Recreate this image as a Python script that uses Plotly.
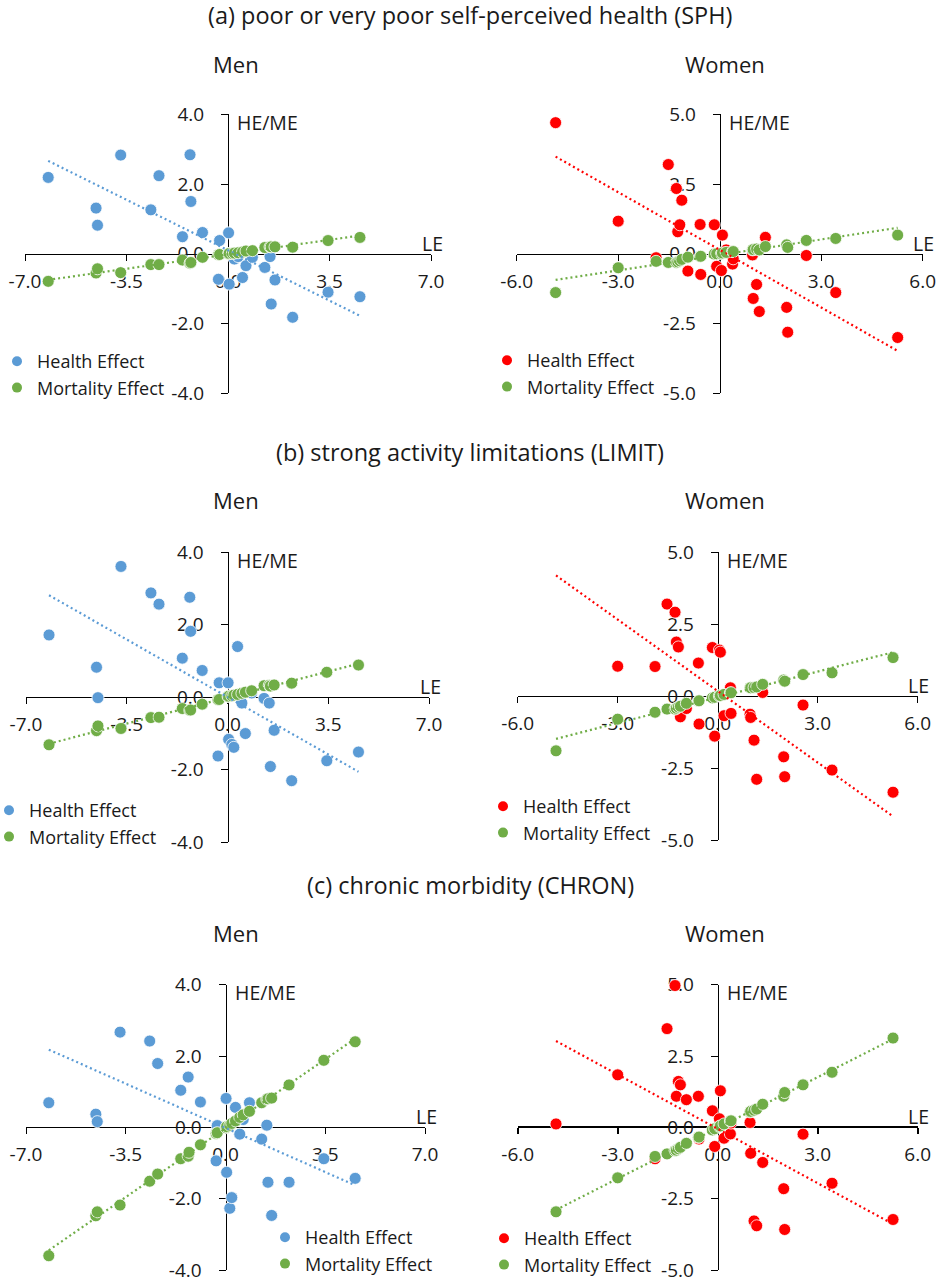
import numpy as np
import plotly.graph_objects as go

# ---------------- data ----------------
men_le = [-6.20, -4.55, -4.50, -3.70, -2.66, -2.38, -1.57, -1.31, -1.28, -0.88, -0.33, -0.29,
          0.02, 0.04, 0.15, 0.22, 0.35, 0.50, 0.62, 0.84, 1.27, 1.45, 1.49, 1.62, 2.23, 3.45, 4.55]
men_sph_he = [2.19, 1.31, 0.82, 2.83, 1.26, 2.24, 0.49, 2.84, 1.50, 0.61, -0.73, 0.38,
              0.60, -0.87, -0.05, -0.15, -0.08, -0.68, -0.34, -0.10, -0.39, -0.08, -1.44, -0.75, -1.82, -1.10, -1.23]
men_sph_me = [-0.79, -0.55, -0.43, -0.54, -0.31, -0.31, -0.18, -0.27, -0.25, -0.10, -0.03, -0.02,
              0.00, 0.01, 0.01, 0.02, 0.03, 0.05, 0.08, 0.09, 0.18, 0.20, 0.20, 0.20, 0.19, 0.38, 0.47]
men_limit_he = [1.72, 0.83, -0.01, 3.61, 2.88, 2.57, 1.08, 2.76, 1.82, 0.74, -1.62, 0.40,
                0.40, -1.16, -1.30, -1.38, 1.40, -0.16, -1.00, 0.12, -0.03, -0.16, -1.91, -0.91, -2.30, -1.75, -1.51]
men_limit_me = [-1.31, -0.92, -0.79, -0.86, -0.56, -0.55, -0.31, -0.36, -0.35, -0.19, -0.07, -0.06,
                0.02, 0.03, 0.04, 0.06, 0.08, 0.11, 0.14, 0.18, 0.32, 0.33, 0.31, 0.34, 0.39, 0.69, 0.89]
men_chron_he = [0.69, 0.37, 0.16, 2.67, 2.42, 1.79, 1.04, 1.41, 4.60, 0.71, -0.94, 0.05,
                0.81, -1.26, -2.27, -1.97, 0.56, -0.19, 0.22, 0.69, -0.33, 0.06, -1.54, -2.47, -1.54, -0.88, -1.43]
men_chron_me = [-3.60, -2.48, -2.37, -2.18, -1.51, -1.31, -0.88, -0.81, -0.70, -0.49, -0.17, -0.15,
                -0.01, 0.02, 0.06, 0.11, 0.18, 0.28, 0.35, 0.45, 0.69, 0.79, 0.80, 0.82, 1.19, 1.88, 2.40]

women_le = [-4.85, -3.00, -1.88, -1.52, -1.28, -1.24, -1.18, -1.12, -0.94, -0.58, -0.56, -0.16, -0.09,
            0.05, 0.08, 0.19, 0.38, 0.40, 0.97, 0.99, 1.09, 1.17, 1.35, 1.98, 2.01, 2.56, 3.43, 5.26]
women_sph_he = [4.70, 1.17, -0.14, 3.20, 2.34, 0.79, 1.04, 1.92, -0.62, 1.05, -0.74, 1.04, -0.45,
                -0.60, 0.67, 0.14, -0.37, -0.18, -0.04, -1.60, -1.10, -2.07, 0.59, -1.92, -2.81, -0.06, -1.39, -3.00]
women_sph_me = [-1.39, -0.50, -0.27, -0.31, -0.31, -0.29, -0.25, -0.20, -0.12, -0.10, -0.09, -0.01, 0.00,
                0.00, 0.03, 0.05, 0.08, 0.08, 0.14, 0.15, 0.17, 0.14, 0.26, 0.32, 0.23, 0.48, 0.55, 0.67]
women_limit_he = [5.60, 1.04, 1.03, 3.20, 2.92, 1.88, 1.71, -0.72, -0.43, 1.15, -0.97, 1.69, -1.39,
                  1.60, 1.53, -0.68, 0.29, -0.60, -0.63, -0.74, -1.53, -2.89, 0.13, -2.11, -2.80, -0.31, -2.57, -3.34]
women_limit_me = [-1.90, -0.80, -0.56, -0.45, -0.45, -0.42, -0.38, -0.35, -0.25, -0.17, -0.16, -0.06, -0.04,
                  0.01, 0.02, 0.06, 0.11, 0.12, 0.29, 0.29, 0.30, 0.32, 0.41, 0.56, 0.52, 0.75, 0.81, 1.34]
women_chron_he = [0.12, 1.84, -1.10, 3.46, 4.97, 1.09, 1.61, 1.49, 0.97, 1.09, -0.41, 0.58, -0.67,
                  0.30, 1.28, -0.38, -0.23, 0.15, 0.17, -0.91, -3.28, -3.45, -1.23, -2.15, -3.58, -0.24, -1.96, -3.23]
women_chron_me = [-2.96, -1.77, -1.02, -0.93, -0.82, -0.80, -0.75, -0.70, -0.56, -0.35, -0.34, -0.09, -0.05,
                  0.03, 0.05, 0.12, 0.22, 0.23, 0.54, 0.56, 0.60, 0.64, 0.81, 1.09, 1.22, 1.49, 1.93, 3.13]

section_titles = ["(a) poor or very poor self-perceived health (SPH)",
                  "(b) strong activity limitations (LIMIT)",
                  "(c) chronic morbidity (CHRON)"]
sex_titles = ["Men", "Women"]
series_names = ["Health Effect", "Mortality Effect"]
men_xticks = [-7.0, -3.5, 0.0, 3.5, 7.0]
men_yticks = [-4.0, -2.0, 0.0, 2.0, 4.0]
women_xticks = [-6.0, -3.0, 0.0, 3.0, 6.0]
women_yticks = [-5.0, -2.5, 0.0, 2.5, 5.0]

# ---------------- styling / layout ----------------
W, H = 940, 1282
FONT = "Open Sans"
TXT = "#1a1a1a"
BLUE = "#5B9BD5"
GREEN = "#70AD47"
RED = "#FF0000"

def fx(px):
    return px / W

def fy(py):
    return 1 - py / H

# panel pixel boxes: (x_left, x_right, y_top, y_bottom)
panels = [
    dict(box=(25, 431, 114.3, 393.3), le=men_le, he=men_sph_he, me=men_sph_me, hc=BLUE,
         xt=men_xticks, yt=men_yticks, leg=(-3, 343), axw=1),
    dict(box=(516.7, 922.7, 114.3, 393.3), le=women_le, he=women_sph_he, me=women_sph_me, hc=RED,
         xt=women_xticks, yt=women_yticks, leg=(487, 342), axw=1),
    dict(box=(26, 429, 552.3, 842.3), le=men_le, he=men_limit_he, me=men_limit_me, hc=BLUE,
         xt=men_xticks, yt=men_yticks, leg=(-11, 792), axw=1),
    dict(box=(517.7, 917.7, 552.3, 840.0), le=women_le, he=women_limit_he, me=women_limit_me, hc=RED,
         xt=women_xticks, yt=women_yticks, leg=(483, 788), axw=1),
    dict(box=(26, 425, 984.7, 1270.0), le=men_le, he=men_chron_he, me=men_chron_me, hc=BLUE,
         xt=men_xticks, yt=men_yticks, leg=(265, 1219), axw=1),
    dict(box=(517.7, 917.7, 984.7, 1270.0), le=women_le, he=women_chron_he, me=women_chron_me, hc=RED,
         xt=women_xticks, yt=women_yticks, leg=(484, 1220), axw=2),
]

fig = go.Figure()
layout = dict(width=W, height=H, margin=dict(l=0, r=0, t=0, b=0, pad=0, autoexpand=False),
              paper_bgcolor="white", plot_bgcolor="white",
              font=dict(family=FONT, size=18, color=TXT),
              annotations=[])

for i, p in enumerate(panels):
    n = i + 1
    sfx = "" if n == 1 else str(n)
    xa, ya = "x" + sfx, "y" + sfx
    legname = "legend" + sfx
    x0, x1, yt_px, yb_px = p["box"]
    xr = [p["xt"][0], p["xt"][-1]]
    yr = [p["yt"][0], p["yt"][-1]]
    xdom = [fx(x0), fx(x1)]
    ydom = [fy(yb_px), fy(yt_px)]
    xpos_of_zero = xdom[0] + (0 - xr[0]) / (xr[1] - xr[0]) * (xdom[1] - xdom[0])
    ypos_of_zero = ydom[0] + (0 - yr[0]) / (yr[1] - yr[0]) * (ydom[1] - ydom[0])

    layout["xaxis" + sfx] = dict(domain=xdom, range=xr, anchor="free", position=ypos_of_zero,
                                 tickvals=p["xt"], ticktext=[f"{v:.1f}" for v in p["xt"]],
                                 showgrid=False, zeroline=False,
                                 showline=True, linecolor="black", linewidth=p["axw"],
                                 ticks="outside", ticklen=6, tickwidth=p["axw"], tickcolor="black",
                                 tickfont=dict(size=19, color=TXT), layer="below traces", fixedrange=True,
                                 ticklabelstandoff=4, ticklabeloverflow="allow")
    layout["yaxis" + sfx] = dict(domain=ydom, range=yr, anchor="free", position=xpos_of_zero,
                                 tickvals=p["yt"], ticktext=[f"{v:.1f}" for v in p["yt"]],
                                 showgrid=False, zeroline=False,
                                 showline=True, linecolor="black", linewidth=1,
                                 ticks="outside", ticklen=7, tickcolor="black",
                                 tickfont=dict(size=19, color=TXT), layer="below traces", fixedrange=True,
                                 ticklabelstandoff=13, ticklabeloverflow="allow")

    lx, ly = p["leg"]
    layout[legname] = dict(x=fx(lx), y=fy(ly), xanchor="left", yanchor="top",
                           bgcolor="rgba(0,0,0,0)", font=dict(size=18, family=FONT, color=TXT),
                           tracegroupgap=0, itemwidth=30)

    le = np.array(p["le"])
    for vals, col in [(p["he"], p["hc"]), (p["me"], GREEN)]:
        fig.add_trace(go.Scatter(x=le, y=vals, mode="markers", xaxis=xa, yaxis=ya, cliponaxis=False,
                                 marker=dict(size=12, color=col, line=dict(color="white", width=0.8)),
                                 showlegend=False, hoverinfo="skip"))
    for vals, col in [(p["he"], p["hc"]), (p["me"], GREEN)]:
        k, b = np.polyfit(le, np.array(vals), 1)
        xs = np.array([le.min(), le.max()])
        fig.add_trace(go.Scatter(x=xs, y=k * xs + b, mode="lines", xaxis=xa, yaxis=ya,
                                 line=dict(color=col, width=2.2, dash="2px,3px"),
                                 showlegend=False, hoverinfo="skip"))
    # legend entries
    for col, nm in [(p["hc"], series_names[0]), (GREEN, series_names[1])]:
        fig.add_trace(go.Scatter(x=[None], y=[None], mode="markers", xaxis=xa, yaxis=ya,
                                 marker=dict(size=10, color=col), name=nm,
                                 showlegend=True, legend=legname))

    # axis titles
    layout["annotations"].append(dict(text="HE/ME", xref=xa + " domain", yref=ya + " domain",
                                      x=(0 - xr[0]) / (xr[1] - xr[0]), y=1, xanchor="left", yanchor="middle",
                                      xshift=7, yshift=-8, showarrow=False, font=dict(size=19.5, color=TXT)))
    layout["annotations"].append(dict(text="LE", xref=xa + " domain", yref=ya + " domain",
                                      x=1, y=(0 - yr[0]) / (yr[1] - yr[0]), xanchor="center", yanchor="bottom",
                                      xshift=1, yshift=-5, showarrow=False, font=dict(size=19.5, color=TXT)))

# section titles and sex labels
title_y = [15, 452, 885]
sex_y = [64, 500, 933]
for t, ty, sy in zip(section_titles, title_y, sex_y):
    layout["annotations"].append(dict(text=t, xref="paper", yref="paper", x=0.5, y=fy(ty),
                                      xanchor="center", yanchor="middle", showarrow=False,
                                      font=dict(size=23.5, color=TXT)))
    for lbl, cx in zip(sex_titles, [236, 725]):
        layout["annotations"].append(dict(text=lbl, xref="paper", yref="paper", x=fx(cx), y=fy(sy),
                                          xanchor="center", yanchor="middle", showarrow=False,
                                          font=dict(size=22, color=TXT)))

fig.update_layout(**layout)
fig.write_html("out.html", config={"displayModeBar": False},
               post_script="document.body.style.margin='0px';")
